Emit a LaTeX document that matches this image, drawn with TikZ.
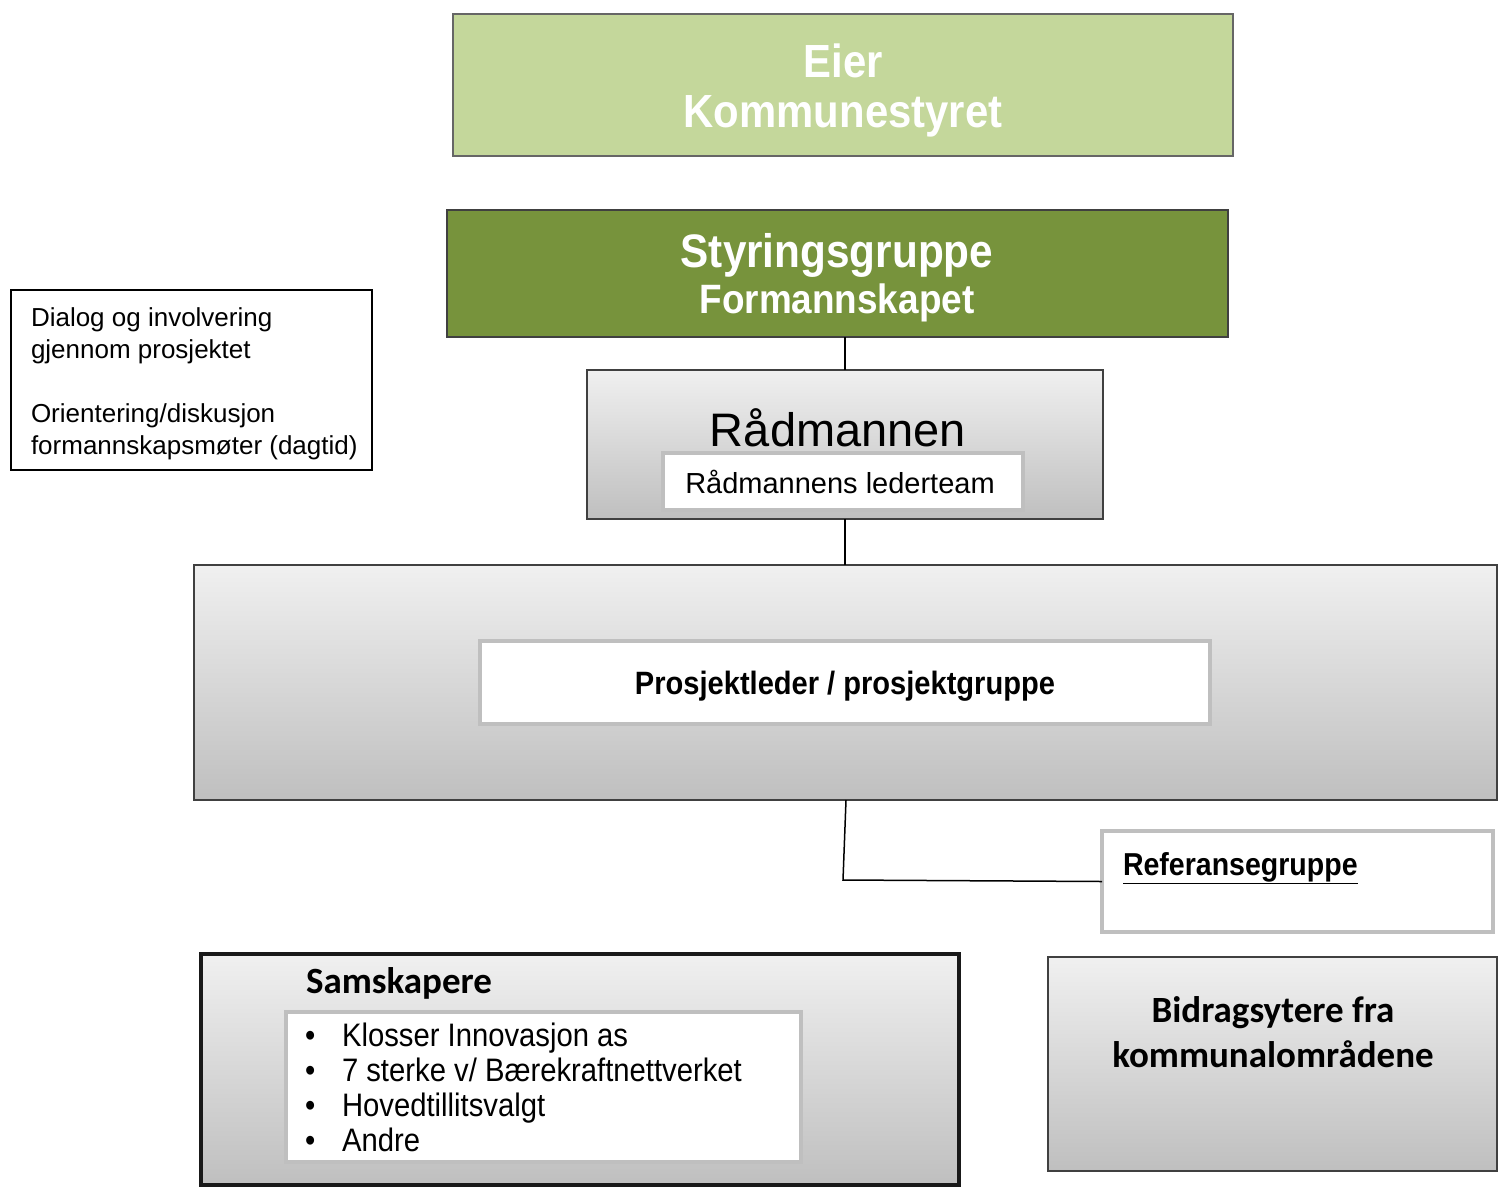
\documentclass[tikz,border=0pt]{standalone}
\usepackage{fontspec}
\setmainfont{Liberation Sans}
\newfontfamily\narrow[FakeStretch=0.9]{Liberation Sans}
\newfontfamily\calibri{Carlito}
\definecolor{lightgreen}{HTML}{C4D79B}
\definecolor{darkgreen}{HTML}{77933C}
\definecolor{gtop}{HTML}{F0F0F0}
\definecolor{gbot}{HTML}{BFBFBF}
\definecolor{innerborder}{HTML}{BFBFBF}
\definecolor{boxborder}{HTML}{404040}
\newcommand{\fsz}[1]{\fontsize{#1}{#1}\selectfont}
\begin{document}
\begin{tikzpicture}[x=1pt,y=-1pt,
  box/.style={rectangle, inner sep=0pt, outer sep=0pt},
  gradbox/.style={box, draw=boxborder, line width=2pt, top color=gtop, bottom color=gbot},
  innerbox/.style={box, draw=innerborder, fill=white, line width=4pt},
  txt/.style={anchor=base, inner sep=0pt, outer sep=0pt},
  ltxt/.style={anchor=base west, inner sep=0pt, outer sep=0pt},
  conn/.style={draw=black, line width=1.5pt}]
\useasboundingbox[fill=white] (0,0) rectangle (1498,1189);

% Eier
\node[box, draw=gray!80!black, fill=lightgreen, line width=1.2pt, minimum width=780pt, minimum height=142pt] (eier) at (843,85) {};
\node[txt, text=white] (eiert1) at (843,77) {\narrow\bfseries\fsz{46.5}Eier};
\node[txt, text=white] (eiert2) at (843,127) {\narrow\bfseries\fsz{46.5}Kommunestyret};

% Styringsgruppe
\node[box, draw=boxborder, fill=darkgreen, line width=1.5pt, minimum width=781pt, minimum height=127pt] (styr) at (837.5,273.5) {};
\node[txt, text=white] (styrt1) at (837,267) {\narrow\bfseries\fsz{47}Styringsgruppe};
\node[txt, text=white] (styrt2) at (837,313) {\narrow\bfseries\fsz{41}Formannskapet};

% Dialog box
\node[box, draw=black, fill=white, line width=1.5pt, minimum width=361pt, minimum height=180pt] (dialog) at (191.5,380) {};
\node[ltxt] (d1) at (31,326) {\fsz{26}Dialog og involvering};
\node[ltxt] (d2) at (31,358) {\fsz{26}gjennom prosjektet};
\node[ltxt] (d3) at (31,422) {\fsz{26}Orientering/diskusjon};
\node[ltxt] (d4) at (31,454) {\fsz{26}formannskapsmøter (dagtid)};

% Rådmannen
\node[gradbox, minimum width=516pt, minimum height=149pt] (rad) at (845,444.5) {};
\node[txt] (radt) at (838,446) {\fsz{47}Rådmannen};
\node[innerbox, minimum width=360pt, minimum height=57pt] (leder) at (843,481.5) {};
\node[txt] (ledert) at (840,493) {\fsz{29}Rådmannens lederteam};

% Big project box
\node[gradbox, minimum width=1303pt, minimum height=235pt] (big) at (845.5,682.5) {};
\node[innerbox, minimum width=730pt, minimum height=83pt] (pl) at (845,682.5) {};
\node[txt] (plt) at (845,694) {\narrow\bfseries\fsz{32.3}Prosjektleder / prosjektgruppe};

% Referansegruppe
\node[innerbox, minimum width=391pt, minimum height=101pt] (ref) at (1297.5,881.5) {};
\node[ltxt] (reft) at (1123,875) {\narrow\bfseries\fsz{31.7}\underline{Referansegruppe}};

% Samskapere
\node[box, draw=black!90, line width=4pt, top color=gtop, bottom color=gbot, minimum width=758pt, minimum height=231pt] (sam) at (580,1069.5) {};
\node[ltxt] (samt) at (306,993) {\calibri\bfseries\fsz{37}Samskapere};
\node[innerbox, minimum width=515pt, minimum height=150pt] (list) at (543.5,1087) {};
\foreach \y/\t [count=\i] in {1046/{Klosser Innovasjon as}, 1081/{7 sterke v/ Bærekraftnettverket}, 1116/{Hovedtillitsvalgt}, 1151/{Andre}}{
  \node[ltxt] (bul\i) at (305,\y) {\narrow\fsz{32.5}•};
  \node[ltxt] (item\i) at (342,\y) {\narrow\fsz{32.5}\t};
}

% Bidragsytere
\node[gradbox, minimum width=449pt, minimum height=214pt] (bid) at (1272.5,1064) {};
\node[txt] (bidt1) at (1273,1022) {\calibri\bfseries\fsz{37}Bidragsytere fra};
\node[txt] (bidt2) at (1273,1067) {\calibri\bfseries\fsz{37}kommunalområdene};

% Connectors
\coordinate (corner) at (843,880);
\draw[conn] (rad.north) -- (rad.north |- styr.south);
\draw[conn] (rad.south) -- (rad.south |- big.north);
\draw[conn] (big.south -| 846,0) -- (corner) -- (ref.west);
\end{tikzpicture}
\end{document}
